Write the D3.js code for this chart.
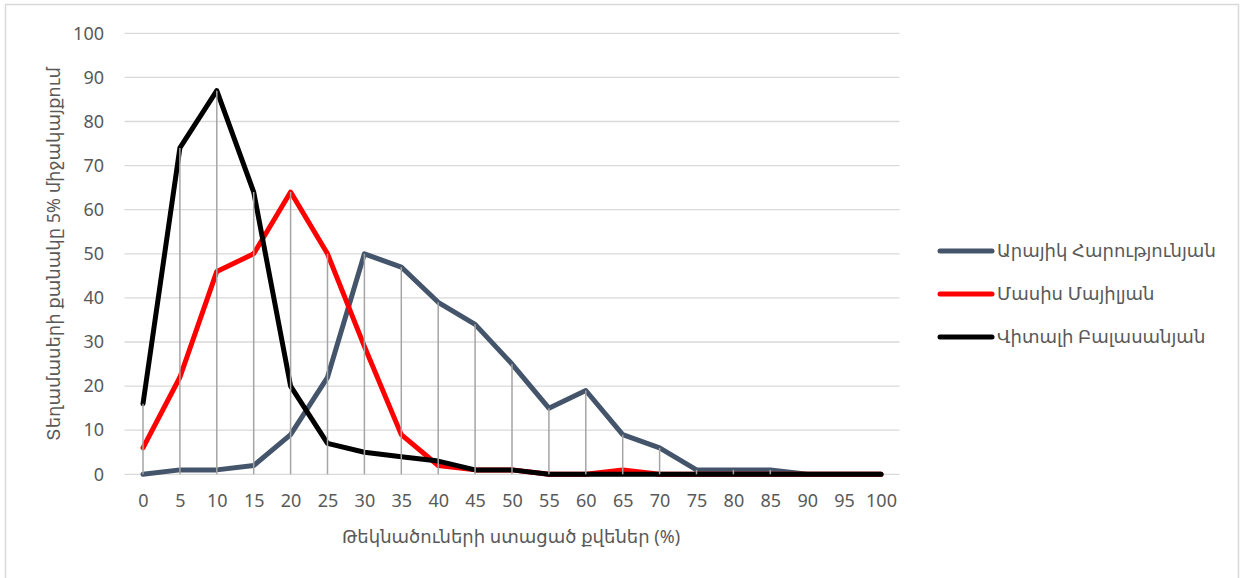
<!DOCTYPE html>
<html>
<head>
<meta charset="utf-8">
<script src="https://cdn.jsdelivr.net/npm/d3@7/dist/d3.min.js"></script>
<style>
  html, body { margin: 0; padding: 0; background: #fff; }
  svg text { font-family: "Noto Sans", "DejaVu Sans", sans-serif; fill: #595959; }
</style>
</head>
<body>
<svg id="chart" width="1240" height="578"></svg>
<script>
const categories = [0,5,10,15,20,25,30,35,40,45,50,55,60,65,70,75,80,85,90,95,100];
const seriesNames = ["Արայիկ Հարությունյան", "Մասիս Մայիլյան", "Վիտալի Բալասանյան"];
const seriesColors = ["#44546a", "#ff0000", "#000000"];
const valuesArayik = [0,1,1,2,9,22,50,47,39,34,25,15,19,9,6,1,1,1,0,0,0];
const valuesMasis  = [6,22,46,50,64,50,29,9,2,1,1,0,0,1,0,0,0,0,0,0,0];
const valuesVitali = [16,74,87,64,20,7,5,4,3,1,1,0,0,0,0,0,0,0,0,0,0];
const yTicks = [0,10,20,30,40,50,60,70,80,90,100];
const xTitle = "Թեկնածուների ստացած քվեներ (%)";
const yTitle = "Տեղամասերի քանակը 5% միջակայքում";

const allValues = [valuesArayik, valuesMasis, valuesVitali];
const svg = d3.select("#chart");
const FONT = '"Noto Sans", "DejaVu Sans", sans-serif';

// outer border
svg.append("rect").attr("x", 5.5).attr("y", 4.5).attr("width", 1233).attr("height", 580)
  .attr("fill", "#fff").attr("stroke", "#d9d9d9").attr("stroke-width", 1.5);

const x = d3.scalePoint().domain(categories).range([143, 881]);
const y = d3.scaleLinear().domain([0, 100]).range([474.3, 33.3]);
const half = x.step() / 2;

// gridlines
svg.append("g").selectAll("line").data(yTicks).join("line")
  .attr("x1", 143 - half).attr("x2", 881 + half)
  .attr("y1", d => y(d)).attr("y2", d => y(d))
  .attr("stroke", "#d9d9d9").attr("stroke-width", 1.3);

// y axis labels
const yAxis = d3.axisLeft(y).tickValues(yTicks).tickSize(0).tickPadding(0);
const yg = svg.append("g").attr("transform", "translate(104,0)").call(yAxis);
yg.select(".domain").remove();
yg.selectAll("text").attr("font-size", 18).attr("fill", "#595959").style("font-family", FONT);

// x axis labels
const xAxis = d3.axisBottom(x).tickSize(0).tickPadding(0);
const xg = svg.append("g").attr("transform", "translate(0,494)").call(xAxis);
xg.select(".domain").remove();
xg.selectAll("text").attr("font-size", 18).attr("fill", "#595959").style("font-family", FONT);

// lines
const line = d3.line().x((d, i) => x(categories[i])).y(d => y(d));
allValues.forEach((vals, k) => {
  svg.append("path").datum(vals).attr("d", line)
    .attr("fill", "none").attr("stroke", seriesColors[k]).attr("stroke-width", 5)
    .attr("stroke-linejoin", "round").attr("stroke-linecap", "round");
});

// drop lines
svg.append("g").selectAll("line").data(categories).join("line")
  .attr("x1", d => x(d)).attr("x2", d => x(d))
  .attr("y1", (d, i) => y(d3.max(allValues, v => v[i])))
  .attr("y2", y(0))
  .attr("stroke", "#a5a5a5").attr("stroke-width", 1.5);

// axis titles
svg.append("text").attr("x", 511).attr("y", 543).attr("text-anchor", "middle")
  .attr("font-size", 18).text(xTitle);
svg.append("text").attr("transform", "translate(60,254) rotate(-90)")
  .attr("text-anchor", "middle").attr("font-size", 18).text(yTitle);

// legend
const lg = svg.append("g");
seriesNames.forEach((name, k) => {
  const ly = 251 + k * 43;
  lg.append("line").attr("x1", 940).attr("x2", 992).attr("y1", ly).attr("y2", ly)
    .attr("stroke", seriesColors[k]).attr("stroke-width", 5).attr("stroke-linecap", "round");
  lg.append("text").attr("x", 997).attr("y", ly + 6).attr("font-size", 18).text(name);
});
</script>
</body>
</html>
